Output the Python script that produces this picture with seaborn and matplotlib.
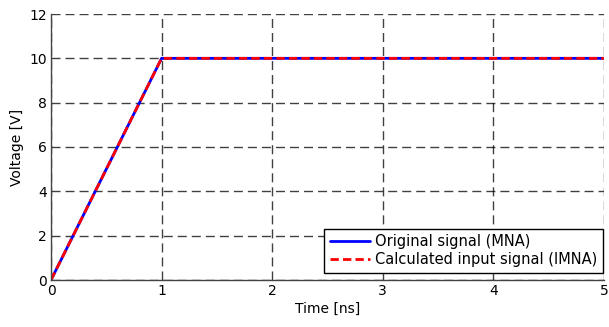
import matplotlib
matplotlib.use("Agg")
import matplotlib.pyplot as plt
import seaborn as sns
import pandas as pd

# Ramp input: 0 V to 10 V in 1 ns, then held
time_ns = [0, 1, 5]
original_v = [0, 10, 10]
calculated_v = [0, 10, 10]

sns.set_style("white")
plt.rcParams["font.family"] = ["DejaVu Sans"]
plt.rcParams["font.size"] = 10
for key in ["text.color", "axes.labelcolor", "xtick.color", "ytick.color"]:
    plt.rcParams[key] = "black"

fig = plt.figure(figsize=(6.09, 3.27), dpi=100)
ax = fig.add_axes([51 / 609, 47 / 327, 553 / 609, 266 / 327])

df = pd.DataFrame({
    "t": time_ns + time_ns,
    "v": original_v + calculated_v,
    "series": ["Original signal (MNA)"] * len(time_ns)
    + ["Calculated input signal (IMNA)"] * len(time_ns),
})

sns.lineplot(data=df[df.series == "Original signal (MNA)"], x="t", y="v",
             color="#0000ff", lw=2.0, ax=ax, label="Original signal (MNA)")
sns.lineplot(data=df[df.series == "Calculated input signal (IMNA)"], x="t", y="v",
             color="#ff0000", lw=2.0, ls=(0, (3, 1.5)), ax=ax,
             label="Calculated input signal (IMNA)")

ax.set_xlim(0, 5)
ax.set_ylim(0, 12)
ax.set_xticks([0, 1, 2, 3, 4, 5])
ax.set_yticks([0, 2, 4, 6, 8, 10, 12])
ax.set_xlabel("Time [ns]", fontsize=10, labelpad=3)
ax.set_ylabel("Voltage [V]", fontsize=10, labelpad=4)

ax.grid(True, color="black", ls=(0, (6.5, 3.6)), lw=1.0, alpha=0.75)
ax.set_axisbelow(True)
for side in ["top", "right"]:
    ax.spines[side].set_visible(False)
for side in ["left", "bottom"]:
    ax.spines[side].set_color("#444444")
    ax.spines[side].set_linewidth(1.0)
ax.tick_params(direction="in", length=4, width=0.8, color="black",
               labelsize=10, pad=3)

leg = ax.legend(loc="lower right", bbox_to_anchor=(0.998, 0.026),
                frameon=True, fancybox=False, edgecolor="black",
                framealpha=1, fontsize=10.5, handlelength=2.8,
                borderaxespad=0, labelspacing=0.2, borderpad=0.4,
                handletextpad=0.3)
leg.get_frame().set_linewidth(1.0)

fig.savefig("out.png", dpi=100)
